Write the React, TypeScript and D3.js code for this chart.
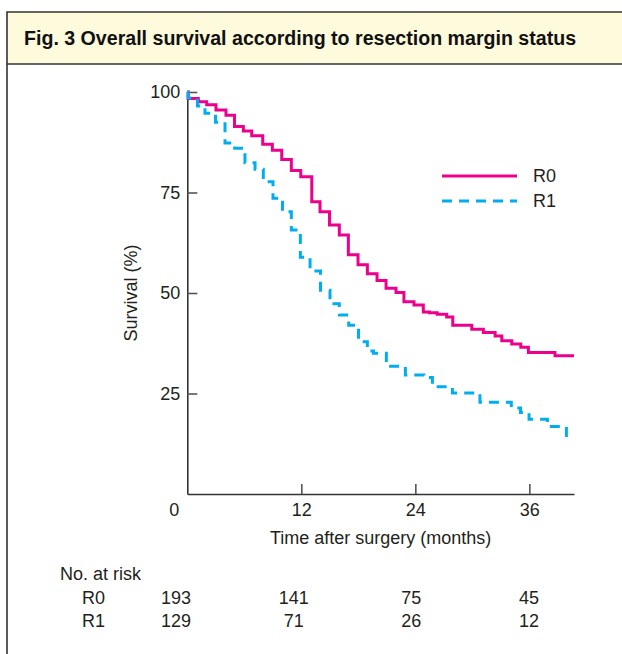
import React, { useEffect, useRef } from 'react'
import * as d3 from 'd3'

const title = 'Fig. 3 Overall survival according to resection margin status'

// Kaplan-Meier steps (months, % surviving)
const r0Months = [0, 0.1, 1.16, 2.04, 3.02, 4.07, 4.97, 5.9, 6.78, 7.94, 8.95, 9.94, 10.95, 11.94, 13.1, 13.97, 14.97, 16.0, 16.95, 17.97,
  18.95, 19.97, 20.92, 21.97, 22.8, 23.86, 24.84, 25.47, 26.3, 27.3, 27.94, 29.94, 31.16, 32.4, 33.1, 34.15, 35.1, 35.9, 38.7, 40.7]
const r0Survival = [100, 98.4, 97.6, 96.8, 95.5, 94.2, 91.4, 90.3, 89.1, 87.0, 85.5, 83.2, 80.5, 78.9, 72.7, 70.2, 66.9, 64.4, 59.5, 57.0,
  54.8, 53.1, 51.2, 50.1, 47.8, 47.0, 45.3, 45.1, 44.7, 44.0, 42.0, 41.0, 40.2, 39.3, 38.1, 37.3, 36.5, 35.2, 34.4, 34.4]

const r1Months = [0, 0.07, 1.07, 1.86, 2.97, 3.97, 4.99, 6.07, 7.13, 8.0, 9.02, 10.02, 10.95, 11.9, 12.92, 14.02, 15.02, 16.0, 16.99, 18.02,
  18.95, 19.6, 20.95, 22.95, 24.9, 25.8, 27.9, 30.8, 34.1, 35.07, 35.97, 37.9, 39.9, 40.3]
const r1Survival = [100, 98.5, 96.5, 94.7, 92.5, 87.3, 86.0, 82.4, 80.8, 77.7, 73.6, 70.2, 65.7, 58.9, 55.5, 50.7, 47.3, 44.5, 42.0, 37.9,
  35.6, 35.0, 31.8, 29.6, 29.0, 26.7, 25.1, 22.8, 21.4, 20.3, 18.6, 16.8, 13.5, 13.5]

const groups = ['R0', 'R1']
const xTicks = [12, 24, 36]
const yTicks = [25, 50, 75, 100]
const riskMonths = [0, 12, 24, 36]
const riskR0 = [193, 141, 75, 45]
const riskR1 = [129, 71, 26, 12]

const W = 622
const H = 654
const FONT = '"Liberation Sans", Arial, Helvetica, sans-serif'
const INK = '#231f20'
const MAGENTA = '#ec008c'
const CYAN = '#00aeef'

export default function App() {
  const ref = useRef<SVGSVGElement | null>(null)

  useEffect(() => {
    const svg = d3.select(ref.current)
    svg.selectAll('*').remove()
    svg.attr('font-family', FONT)

    // panel frame + yellow title bar
    svg.append('rect')
      .attr('x', 7).attr('y', 12).attr('width', W).attr('height', 52)
      .attr('fill', '#fefadc')
    svg.append('path')
      .attr('d', `M7,${H} V12 H${W + 5} M7,64 H${W + 5}`)
      .attr('fill', 'none').attr('stroke', '#333').attr('stroke-width', 1.6)
    svg.append('text')
      .attr('x', 24).attr('y', 45)
      .attr('font-size', 19.6).attr('font-weight', 'bold').attr('fill', '#111')
      .text(title)

    let x = d3.scaleLinear().domain([0, 40.7]).range([187.3, 574])
    let y = d3.scaleLinear().domain([0, 100]).range([494, 92])

    // axes, ticks point inwards
    let gy = svg.append('g').attr('transform', `translate(${x(0)},0)`)
      .call(d3.axisLeft(y).tickValues(yTicks).tickSizeInner(-10).tickSizeOuter(0).tickPadding(7))
    let gx = svg.append('g').attr('transform', `translate(0,${y(0)})`)
      .call(d3.axisBottom(x).tickValues(xTicks).tickSizeInner(-10).tickSizeOuter(0).tickPadding(9))
    ;[gy, gx].forEach(g => {
      g.attr('font-family', FONT).attr('font-size', 18)
      g.select('.domain').attr('stroke', '#333').attr('stroke-width', 1.6)
      g.selectAll('.tick line').attr('stroke', '#555').attr('stroke-width', 1.6)
      g.selectAll('.tick text').attr('fill', INK)
    })
    svg.append('text')
      .attr('x', x(0) - 13).attr('y', y(0) + 22)
      .attr('text-anchor', 'middle').attr('font-size', 18).attr('fill', INK)
      .text('0')

    svg.append('text')
      .attr('x', (x(0) + x(40.7)) / 2).attr('y', 544)
      .attr('text-anchor', 'middle').attr('font-size', 18).attr('fill', INK)
      .text('Time after surgery (months)')
    svg.append('text')
      .attr('transform', `translate(137,${y(50)}) rotate(-90)`)
      .attr('text-anchor', 'middle').attr('font-size', 18).attr('fill', INK)
      .text('Survival (%)')

    // survival curves
    let line = d3.line<[number, number]>()
      .x(d => x(d[0]))
      .y(d => y(d[1]))
      .curve(d3.curveStepAfter)
    let r0 = r0Months.map((m, i) => [m, r0Survival[i]] as [number, number])
    let r1 = r1Months.map((m, i) => [m, r1Survival[i]] as [number, number])

    svg.append('path').attr('d', line(r0))
      .attr('fill', 'none').attr('stroke', MAGENTA).attr('stroke-width', 3)
    svg.append('path').attr('d', line(r1))
      .attr('fill', 'none').attr('stroke', CYAN).attr('stroke-width', 3)
      .attr('stroke-dasharray', '10,7')

    // legend
    let legend = svg.append('g').attr('transform', 'translate(442,176)')
    groups.forEach((name, i) => {
      legend.append('line')
        .attr('x1', 0).attr('x2', 75).attr('y1', i * 25).attr('y2', i * 25)
        .attr('stroke', i === 0 ? MAGENTA : CYAN).attr('stroke-width', 3)
        .attr('stroke-dasharray', i === 0 ? null : '10,7')
      legend.append('text')
        .attr('x', 91).attr('y', i * 25).attr('dy', '0.36em')
        .attr('font-size', 18).attr('fill', INK)
        .text(name)
    })

    // numbers at risk
    let riskX = d3.scaleLinear().domain([0, 36]).range([176, 529])
    svg.append('text')
      .attr('x', 60).attr('y', 580)
      .attr('font-size', 18).attr('fill', INK)
      .text('No. at risk')
    ;[riskR0, riskR1].forEach((row, i) => {
      let ry = 604 + i * 23
      svg.append('text')
        .attr('x', 82).attr('y', ry)
        .attr('font-size', 18).attr('fill', INK)
        .text(groups[i])
      svg.selectAll(null)
        .data(row)
        .enter()
        .append('text')
        .attr('x', (d, j) => riskX(riskMonths[j]))
        .attr('y', ry)
        .attr('text-anchor', 'middle')
        .attr('font-size', 18).attr('fill', INK)
        .text(d => d)
    })
  }, [])

  return (
    <svg ref={ref} width={W} height={H}
      style={{ position: 'absolute', left: 0, top: 0, background: '#fff' }} />
  )
}
